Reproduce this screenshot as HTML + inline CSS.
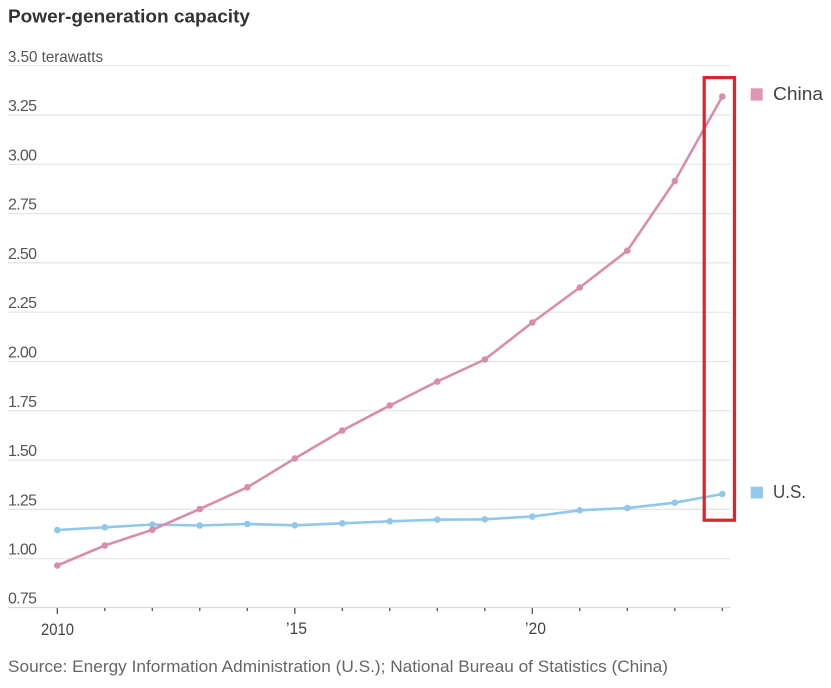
<!DOCTYPE html>
<html>
<head>
<meta charset="utf-8">
<style>
html,body{margin:0;padding:0;background:#fff;}
svg{display:block;}
text{font-family:"Liberation Sans",sans-serif;}
</style>
</head>
<body>
<svg width="831" height="688" viewBox="0 0 831 688" xmlns="http://www.w3.org/2000/svg">
<rect width="831" height="688" fill="#fff"/>
<!-- title -->
<text x="8" y="22.5" font-size="18" font-weight="bold" fill="#333" textLength="242" lengthAdjust="spacingAndGlyphs">Power-generation capacity</text>

<!-- gridlines -->
<g stroke="#e4e4e4" stroke-width="1.2">
<line x1="8" x2="730" y1="65.7" y2="65.7"/>
<line x1="8" x2="730" y1="115" y2="115"/>
<line x1="8" x2="730" y1="164.3" y2="164.3"/>
<line x1="8" x2="730" y1="213.6" y2="213.6"/>
<line x1="8" x2="730" y1="262.9" y2="262.9"/>
<line x1="8" x2="730" y1="312.2" y2="312.2"/>
<line x1="8" x2="730" y1="361.5" y2="361.5"/>
<line x1="8" x2="730" y1="410.8" y2="410.8"/>
<line x1="8" x2="730" y1="460.1" y2="460.1"/>
<line x1="8" x2="730" y1="509.4" y2="509.4"/>
<line x1="8" x2="730" y1="558.7" y2="558.7"/>
</g>
<line x1="8" x2="730" y1="607.5" y2="607.5" stroke="#d8d8d8" stroke-width="1.2"/>

<!-- y labels -->
<g font-size="16" fill="#555">
<text x="8" y="62" textLength="95" lengthAdjust="spacingAndGlyphs">3.50 terawatts</text>
<text x="8" y="111" textLength="29">3.25</text>
<text x="8" y="160.3" textLength="29">3.00</text>
<text x="8" y="209.6" textLength="29">2.75</text>
<text x="8" y="258.9" textLength="29">2.50</text>
<text x="8" y="308.2" textLength="29">2.25</text>
<text x="8" y="357.5" textLength="29">2.00</text>
<text x="8" y="406.8" textLength="29">1.75</text>
<text x="8" y="456.1" textLength="29">1.50</text>
<text x="8" y="505.4" textLength="29">1.25</text>
<text x="8" y="554.7" textLength="29">1.00</text>
<text x="8" y="603.5" textLength="29">0.75</text>
</g>

<!-- ticks -->
<g stroke="#555" stroke-width="1.3">
<line x1="57.3" x2="57.3" y1="608" y2="614"/>
<line x1="104.8" x2="104.8" y1="608" y2="611"/>
<line x1="152.3" x2="152.3" y1="608" y2="611"/>
<line x1="199.8" x2="199.8" y1="608" y2="611"/>
<line x1="247.3" x2="247.3" y1="608" y2="611"/>
<line x1="294.8" x2="294.8" y1="608" y2="614"/>
<line x1="342.3" x2="342.3" y1="608" y2="611"/>
<line x1="389.8" x2="389.8" y1="608" y2="611"/>
<line x1="437.3" x2="437.3" y1="608" y2="611"/>
<line x1="484.8" x2="484.8" y1="608" y2="611"/>
<line x1="532.3" x2="532.3" y1="608" y2="614"/>
<line x1="579.8" x2="579.8" y1="608" y2="611"/>
<line x1="627.3" x2="627.3" y1="608" y2="611"/>
<line x1="674.8" x2="674.8" y1="608" y2="611"/>
<line x1="722.3" x2="722.3" y1="608" y2="611"/>
</g>

<!-- x labels -->
<g font-size="17" fill="#444">
<text x="41" y="635" textLength="33" lengthAdjust="spacingAndGlyphs">2010</text>
<text x="286" y="634" textLength="21" lengthAdjust="spacingAndGlyphs">’15</text>
<text x="525" y="634" textLength="21" lengthAdjust="spacingAndGlyphs">’20</text>
</g>

<!-- source -->
<text x="8" y="672" font-size="17" fill="#666" textLength="660" lengthAdjust="spacingAndGlyphs">Source: Energy Information Administration (U.S.); National Bureau of Statistics (China)</text>

<!-- US series -->
<polyline fill="none" stroke="#8fc8ea" stroke-width="2.6" stroke-linejoin="round" stroke-linecap="round"
points="57.3,530 104.8,527.3 152.3,524.5 199.8,525.5 247.3,524 294.8,525.3 342.3,523.3 389.8,521.3 437.3,519.7 484.8,519.3 532.3,516.5 579.8,510.3 627.3,508 674.8,502.7 722.3,494"/>
<g fill="#8fc8ea">
<circle cx="57.3" cy="530" r="3.3"/>
<circle cx="104.8" cy="527.3" r="3.3"/>
<circle cx="152.3" cy="524.5" r="3.3"/>
<circle cx="199.8" cy="525.5" r="3.3"/>
<circle cx="247.3" cy="524" r="3.3"/>
<circle cx="294.8" cy="525.3" r="3.3"/>
<circle cx="342.3" cy="523.3" r="3.3"/>
<circle cx="389.8" cy="521.3" r="3.3"/>
<circle cx="437.3" cy="519.7" r="3.3"/>
<circle cx="484.8" cy="519.3" r="3.3"/>
<circle cx="532.3" cy="516.5" r="3.3"/>
<circle cx="579.8" cy="510.3" r="3.3"/>
<circle cx="627.3" cy="508" r="3.3"/>
<circle cx="674.8" cy="502.7" r="3.3"/>
<circle cx="722.3" cy="494" r="3.3"/>
</g>

<!-- China series -->
<polyline fill="none" stroke="#d98dac" stroke-width="2.6" stroke-linejoin="round" stroke-linecap="round"
points="57.3,565.5 104.8,545.5 152.3,529.8 199.8,509 247.3,487.3 294.8,458.5 342.3,430.5 389.8,405.5 437.3,381.5 484.8,359.5 532.3,322.5 579.8,287.5 627.3,250.7 674.8,181 722.3,96.5"/>
<g fill="#d98dac">
<circle cx="57.3" cy="565.5" r="3.3"/>
<circle cx="104.8" cy="545.5" r="3.3"/>
<circle cx="152.3" cy="529.8" r="3.3"/>
<circle cx="199.8" cy="509" r="3.3"/>
<circle cx="247.3" cy="487.3" r="3.3"/>
<circle cx="294.8" cy="458.5" r="3.3"/>
<circle cx="342.3" cy="430.5" r="3.3"/>
<circle cx="389.8" cy="405.5" r="3.3"/>
<circle cx="437.3" cy="381.5" r="3.3"/>
<circle cx="484.8" cy="359.5" r="3.3"/>
<circle cx="532.3" cy="322.5" r="3.3"/>
<circle cx="579.8" cy="287.5" r="3.3"/>
<circle cx="627.3" cy="250.7" r="3.3"/>
<circle cx="674.8" cy="181" r="3.3"/>
<circle cx="722.3" cy="96.5" r="3.3"/>
</g>

<!-- red highlight box -->
<rect x="704.2" y="77.6" width="30.3" height="442.6" fill="none" stroke="#d9262c" stroke-width="3.2"/>

<!-- legend -->
<rect x="750.7" y="88.3" width="12" height="12.3" fill="#dc96b6"/>
<text x="773" y="99.8" font-size="18.5" fill="#444" textLength="50" lengthAdjust="spacingAndGlyphs">China</text>
<rect x="750.7" y="486.7" width="12.3" height="11.7" fill="#92caec"/>
<text x="773" y="498" font-size="18.5" fill="#444" textLength="33" lengthAdjust="spacingAndGlyphs">U.S.</text>
</svg>
</body>
</html>
